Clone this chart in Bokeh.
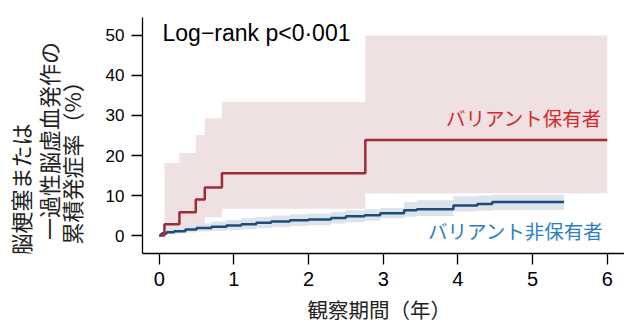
import math
from bokeh.plotting import figure
from bokeh.layouts import row
from bokeh.models import Label, FixedTicker, Range1d, Title
from bokeh.embed import file_html
from bokeh.resources import INLINE

# ---- data ----
x_ticks = [0, 1, 2, 3, 4, 5, 6]
y_ticks = [0, 10, 20, 30, 40, 50]

# variant carriers (KM cumulative incidence, %)
red_t = [0, 0.07, 0.27, 0.49, 0.61, 0.84, 2.76, 6.0]
red_v = [0, 2.8, 5.8, 9.0, 12.0, 15.6, 23.9, 23.9]
red_band_t = [0.07, 0.27, 0.49, 0.61, 0.84, 2.76, 6.0]
red_lo = [0.4, 0.8, 1.5, 4.6, 6.7, 10.6, 10.6]
red_hi = [18.1, 20.6, 25.1, 29.3, 33.4, 50.0, 50.0]

# non-carriers
blue_t = [0, 0.03, 0.1, 0.2, 0.35, 0.5, 0.7, 0.9, 1.1, 1.3, 1.5, 1.75, 2.0,
          2.3, 2.5, 2.75, 2.96, 3.28, 3.45, 3.94, 4.26, 4.46, 5.42]
blue_v = [0, 0.5, 0.8, 1.1, 1.5, 1.9, 2.2, 2.5, 2.8, 3.2, 3.5, 3.8, 4.0,
          4.4, 4.8, 5.1, 5.6, 6.3, 6.6, 7.5, 7.9, 8.4, 8.4]
blue_lo = [0, 0.2, 0.4, 0.6, 0.8, 1.0, 1.2, 1.4, 1.6, 1.9, 2.1, 2.4, 2.6,
           3.0, 3.3, 3.7, 4.3, 4.7, 4.9, 6.0, 6.2, 6.4, 6.4]
blue_hi = [0, 0.9, 1.4, 1.9, 2.5, 3.0, 3.5, 3.9, 4.3, 4.7, 5.0, 5.3, 5.5,
           5.9, 6.3, 6.6, 6.9, 8.4, 8.8, 9.8, 10.0, 10.2, 10.2]

title_text = "Log\u2212rank p<0\u00b7001"
red_name = "バリアント保有者"
blue_name = "バリアント非保有者"
ylabel_lines = ["脳梗塞または", "一過性脳虚血発作の", "累積発症率（%）"]
xlabel_text = "観察期間（年）"

RED_LINE = "#9c2c36"
RED_BAND = "#efe0e2"
BLUE_LINE = "#1f4b7b"
BLUE_BAND = "#dce3ea"
RED_TEXT = "#d6282d"
BLUE_TEXT = "#2c7fc2"
LATIN = "Liberation Sans"
CJK = "Noto Sans CJK JP"

LEFT_W = 100
H = 327
TOP = 17
BOTTOM = 73

# ---- left panel holding the multi-line y-axis title ----
# its frame shares the main plot's top/bottom borders; the y range is set so
# that one unit equals one pixel measured from the top of the page
lp = figure(width=LEFT_W, height=H, output_backend="svg", toolbar_location=None,
            x_range=Range1d(0, LEFT_W), y_range=Range1d(H - BOTTOM, TOP),
            x_axis_location=None, y_axis_location=None,
            min_border_left=0, min_border_right=0, min_border_top=TOP,
            min_border_bottom=BOTTOM)
lp.grid.visible = False
lp.outline_line_color = None
lp.background_fill_color = "white"
lp.border_fill_color = "white"

yl_x = [19.7, 47.5, 70.5]
yl_ctr = [189.7, 140.9, 157.4]
for txt, lx, cy in zip(ylabel_lines, yl_x, yl_ctr):
    lp.add_layout(Label(x=lx, y=cy, text=txt, text_font=CJK,
                        text_font_size="22px", text_align="center",
                        text_baseline="middle", angle=math.pi / 2,
                        text_color="#222222"))

# ---- main plot ----
p = figure(width=624 - LEFT_W, height=H, output_backend="svg",
           toolbar_location=None,
           x_range=Range1d(-0.224, 6.231), y_range=Range1d(-4.48, 54.48),
           min_border_left=142 - LEFT_W, min_border_right=0, min_border_top=TOP,
           min_border_bottom=BOTTOM)
p.outline_line_color = None
p.grid.visible = False
p.background_fill_color = "white"
p.border_fill_color = "white"

p.varea_step(x=red_band_t, y1=red_lo, y2=red_hi, step_mode="after",
             fill_color=RED_BAND, fill_alpha=1.0)
p.varea_step(x=blue_t, y1=blue_lo, y2=blue_hi, step_mode="after",
             fill_color=BLUE_BAND, fill_alpha=1.0)
p.step(blue_t, blue_v, mode="after", line_color=BLUE_LINE, line_width=2.5)
p.step(red_t, red_v, mode="after", line_color=RED_LINE, line_width=2.5)

p.xaxis.ticker = FixedTicker(ticks=x_ticks)
p.yaxis.ticker = FixedTicker(ticks=y_ticks)
for ax in (p.xaxis[0], p.yaxis[0]):
    ax.minor_tick_line_color = None
    ax.major_tick_out = 11
    ax.major_tick_in = 0
    ax.axis_line_color = "black"
    ax.axis_line_width = 1.3
    ax.major_tick_line_color = "black"
    ax.major_tick_line_width = 1.3
    ax.major_label_text_color = "black"
    ax.major_label_text_font = LATIN
    ax.major_label_standoff = 7
p.xaxis.major_label_text_font_size = "20px"
p.yaxis.major_label_text_font_size = "17px"

p.add_layout(Label(x=0.044, y=50.5, text=title_text, text_font=LATIN,
                   text_font_size="23px", text_baseline="alphabetic",
                   text_color="black"))
p.add_layout(Label(x=5.93, y=29.5, text=red_name, text_font=CJK,
                   text_font_size="19.5px", text_align="right",
                   text_baseline="middle", text_color=RED_TEXT))
p.add_layout(Label(x=5.95, y=1.25, text=blue_name, text_font=CJK,
                   text_font_size="19.5px", text_align="right",
                   text_baseline="middle", text_color=BLUE_TEXT))

# x-axis title (below the axis)
p.add_layout(Title(text=xlabel_text, text_font=CJK, text_font_size="20.5px",
                   text_font_style="normal", text_color="#222222",
                   align="left", offset=165, standoff=7), "below")

layout = row(lp, p, spacing=0)
open("out.html", "w").write(file_html(layout, INLINE))
